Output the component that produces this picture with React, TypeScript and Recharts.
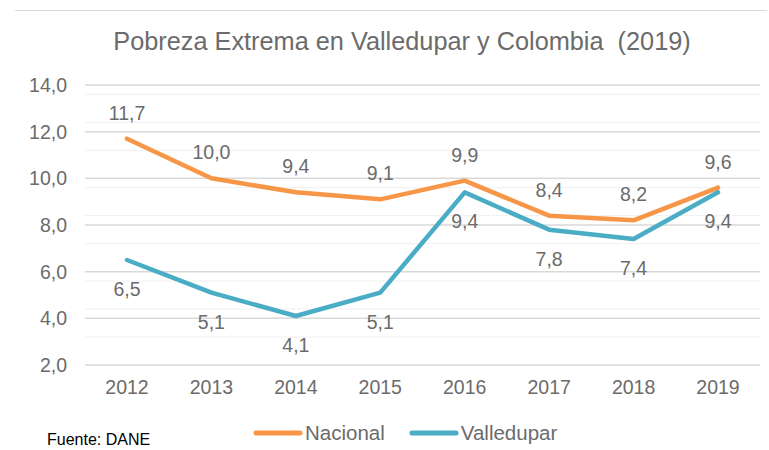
import { CartesianGrid, Legend, LabelList, Line, LineChart, XAxis, YAxis } from "recharts";

const years = ["2012", "2013", "2014", "2015", "2016", "2017", "2018", "2019"];
const nacional = [11.7, 10.0, 9.4, 9.1, 9.9, 8.4, 8.2, 9.6];
const valledupar = [6.5, 5.1, 4.1, 5.1, 9.4, 7.8, 7.4, 9.4];
const yTicks = [2, 4, 6, 8, 10, 12, 14];
const minorTicks = [
  2.4, 2.8, 3.2, 3.6, 4.4, 4.8, 5.2, 5.6, 6.4, 6.8, 7.2, 7.6, 8.4, 8.8, 9.2, 9.6,
  10.4, 10.8, 11.2, 11.6, 12.4, 12.8, 13.2, 13.6,
];

const data = years.map((year, i) => ({
  year,
  nacional: nacional[i],
  valledupar: valledupar[i],
}));

const FONT = '"Liberation Sans", Arial, sans-serif';
const TEXT = "#6b6b6b";

const fmt = (v: number) => v.toFixed(1).replace(".", ",");

function LegendContent({ payload }: { payload?: Array<{ value: string; color: string }> }) {
  return (
    <div style={{ display: "flex", alignItems: "center", height: 24, paddingLeft: 253 }}>
      {(payload ?? []).map((item) => (
        <div key={item.value} style={{ display: "flex", alignItems: "center", marginRight: 24 }}>
          <svg width={50} height={8} style={{ marginRight: 2 }}>
            <line x1={3} y1={4} x2={47} y2={4} stroke={item.color} strokeWidth={5} strokeLinecap="round" />
          </svg>
          <span style={{ fontFamily: FONT, fontSize: 20.5, color: TEXT }}>{item.value}</span>
        </div>
      ))}
    </div>
  );
}

export default function App() {
  return (
    <div style={{ position: "absolute", left: 0, top: 0, width: 769, height: 450, background: "#fff" }}>
      <div style={{ position: "absolute", left: 15, top: 10, width: 752, borderTop: "1px solid #d9d9d9" }} />
      <div
        style={{
          position: "absolute",
          left: 0,
          top: 27,
          width: 804,
          textAlign: "center",
          fontFamily: FONT,
          fontSize: 25.3,
          color: TEXT,
          whiteSpace: "pre",
        }}
      >
        {"Pobreza Extrema en Valledupar y Colombia  (2019)"}
      </div>
      <LineChart
        width={769}
        height={450}
        data={data}
        margin={{ top: 85, right: 9, bottom: 5, left: 0 }}
        style={{ fontFamily: FONT }}
      >
        <CartesianGrid vertical={false} horizontalValues={minorTicks} stroke="#f0f0f0" strokeWidth={1} />
        <CartesianGrid vertical={false} horizontalValues={yTicks} stroke="#d9d9d9" strokeWidth={1.5} />
        <XAxis
          dataKey="year"
          axisLine={false}
          tickLine={false}
          tickSize={0}
          tickMargin={15}
          height={56}
          padding={{ left: 42, right: 42 }}
          tick={{ fill: TEXT, fontSize: 19.5 }}
        />
        <YAxis
          domain={[2, 14]}
          ticks={yTicks}
          axisLine={false}
          tickLine={false}
          tickSize={0}
          tickMargin={18}
          width={85}
          tickFormatter={fmt}
          tick={{ fill: TEXT, fontSize: 19.5 }}
        />
        <Legend verticalAlign="bottom" content={<LegendContent />} />
        <Line
          dataKey="nacional"
          name="Nacional"
          stroke="#F79646"
          strokeWidth={4.5}
          strokeLinejoin="round"
          strokeLinecap="round"
          dot={false}
          isAnimationActive={false}
        >
          <LabelList dataKey="nacional" position="top" offset={19} formatter={fmt} fill={TEXT} fontSize={19.5} />
        </Line>
        <Line
          dataKey="valledupar"
          name="Valledupar"
          stroke="#4BACC6"
          strokeWidth={4.5}
          strokeLinejoin="round"
          strokeLinecap="round"
          dot={false}
          isAnimationActive={false}
        >
          <LabelList dataKey="valledupar" position="bottom" offset={22} formatter={fmt} fill={TEXT} fontSize={19.5} />
        </Line>
      </LineChart>
      <div style={{ position: "absolute", left: 47, top: 431, fontFamily: FONT, fontSize: 16, color: "#000" }}>
        Fuente: DANE
      </div>
    </div>
  );
}
